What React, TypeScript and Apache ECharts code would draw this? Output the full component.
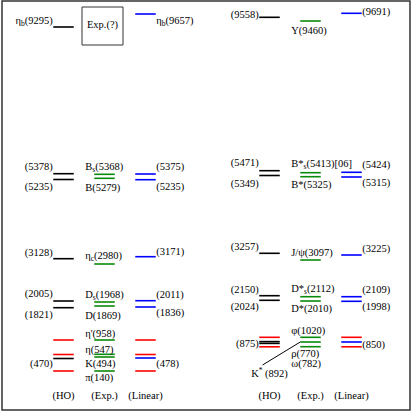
import { useEffect, useRef } from "react";
import * as echarts from "echarts";

// Columns of each panel (model / experiment / model)
const columns = ["(HO)", "(Exp.)", "(Linear)"];

// Level kinds: 0 = HO model, 1 = experiment, 2 = linear model, 3 = reference level
// Each level: [column, schematic level position (0 = top of the diagram), kind]
const pseudoscalarLevels: [number, number, number][] = [
  [0, 27, 0], [2, 14, 2],
  [0, 173.7, 0], [0, 179.5, 0], [1, 174.3, 1], [1, 178.3, 1], [2, 174, 2], [2, 179.7, 2],
  [0, 258.7, 0], [1, 264, 1], [2, 256.7, 2],
  [0, 301, 0], [0, 307.7, 0], [1, 302, 1], [1, 306, 1], [2, 300.7, 2], [2, 307, 2],
  [0, 340, 3], [0, 354.5, 3], [0, 358.5, 0], [0, 371, 3],
  [1, 340, 1], [1, 354.3, 1], [1, 357, 1], [1, 371, 1],
  [2, 340, 3], [2, 354.5, 3], [2, 358, 2], [2, 371, 3],
];

const vectorLevels: [number, number, number][] = [
  [0, 17.3, 0], [1, 21, 1], [2, 13.3, 2],
  [0, 170.7, 0], [0, 175.5, 0], [1, 172.7, 1], [1, 176.7, 1], [2, 172.3, 2], [2, 177, 2],
  [0, 253.3, 0], [1, 260, 1], [2, 255, 2],
  [0, 295.7, 0], [0, 300.3, 0], [1, 296.7, 1], [1, 301, 1], [2, 296.7, 2], [2, 301.3, 2],
  [0, 337.3, 3], [0, 341.6, 0], [0, 343.4, 0], [0, 346.8, 3],
  [1, 337.3, 1], [1, 342, 1], [1, 346.7, 1],
  [2, 337.3, 3], [2, 342, 2], [2, 346.8, 3],
];

// Labels: [column, level position, text ("_x" subscript, "^x" superscript), centred?]
const pseudoscalarLabels: [number, number, string, boolean?][] = [
  [0, 20, "η_b(9295)"], [2, 20, "η_b(9657)"],
  [0, 166.7, "(5378)"], [0, 186, "(5235)"], [1, 166, "B_s(5368)"], [1, 187, "B(5279)"],
  [2, 166, "(5375)"], [2, 186, "(5235)"],
  [0, 252.7, "(3128)"], [1, 255, "η_c(2980)"], [2, 251, "(3171)"],
  [0, 293.3, "(2005)"], [0, 314, "(1821)"], [1, 294, "D_s(1968)"], [1, 315.3, "D(1869)"],
  [2, 294, "(2011)"], [2, 312, "(1836)"],
  [1, 333.3, "η'(958)"], [1, 349.3, "η(547)"], [1, 363.3, "K(494)"], [1, 377.3, "π(140)"],
  [0, 363.3, "(470)"], [2, 363.3, "(478)"],
];

const vectorLabels: [number, number, string, boolean?][] = [
  [0, 14.7, "(9558)"], [1, 30, "Υ(9460)"], [2, 11, "(9691)"],
  [0, 162.7, "(5471)"], [0, 183.3, "(5349)"], [1, 163.3, "B*_s(5413)[06]"], [1, 184.7, "B*(5325)"],
  [2, 164, "(5424)"], [2, 182.7, "(5315)"],
  [0, 246.7, "(3257)"], [1, 252.7, "J/ψ(3097)"], [2, 248.3, "(3225)"],
  [0, 289.3, "(2150)"], [0, 306, "(2024)"], [1, 288.3, "D*_s(2112)"], [1, 308.3, "D*(2010)"],
  [2, 289.3, "(2109)"], [2, 306.7, "(1998)"],
  [1, 330.7, "φ(1020)"], [0, 343.3, "(875)"], [1, 353.3, "ρ(770)"], [1, 363.5, "ω(782)"],
  [0, 373.3, "K^* (892)", true], [2, 344, "(850)"],
];

// K* pointer: from the K* label (HO column) to the experimental level
const kStarPointer: [number, number][] = [[0, 365], [1, 342]];

const KIND_COLORS = ["#000000", "#0a8a0a", "#0000ff", "#ff0000"];
const FONT = "Liberation Serif";
const FS = 10.5;

const rich = {
  n: { fontSize: FS, fontFamily: FONT, lineHeight: 8, fill: "#000" },
  sub: { fontSize: 7.5, fontFamily: FONT, lineHeight: 8, padding: [6, 0, 0, 0], fill: "#000" },
  sup: { fontSize: 7.5, fontFamily: FONT, lineHeight: 8, padding: [0, 0, 6, 0], fill: "#000" },
};

function toRich(s: string): string {
  let out = "";
  let buf = "";
  const flush = () => {
    if (buf) {
      out += `{n|${buf}}`;
      buf = "";
    }
  };
  let i = 0;
  while (i < s.length) {
    const ch = s[i];
    if ((ch === "_" || ch === "^") && i + 1 < s.length) {
      flush();
      out += `{${ch === "_" ? "sub" : "sup"}|${s[i + 1]}}`;
      i += 2;
    } else {
      buf += ch;
      i++;
    }
  }
  flush();
  return out;
}

function levelSeries(levels: [number, number, number][], idx: number) {
  return {
    type: "custom",
    xAxisIndex: idx,
    yAxisIndex: idx,
    clip: false,
    encode: { x: 0, y: 1 },
    data: levels.map((l) => [l[0], l[1]]),
    renderItem: (params: any, api: any) => {
      const l = levels[params.dataIndex];
      const p = api.coord([l[0], l[1]]);
      const half = api.size([1, 0])[0] * 0.25;
      return {
        type: "line",
        shape: { x1: p[0] - half, y1: p[1], x2: p[0] + half, y2: p[1] },
        style: { stroke: KIND_COLORS[l[2]], lineWidth: 1.6 },
      };
    },
  };
}

function labelSeries(labels: [number, number, string, boolean?][], idx: number) {
  return {
    type: "custom",
    xAxisIndex: idx,
    yAxisIndex: idx,
    clip: false,
    encode: { x: 0, y: 1 },
    data: labels.map((l) => [l[0], l[1]]),
    renderItem: (params: any, api: any) => {
      const l = labels[params.dataIndex];
      const p = api.coord([l[0], l[1]]);
      const band = api.size([1, 0])[0];
      let x = p[0];
      let align = "left";
      if (l[3]) {
        align = "center";
      } else if (l[0] === 0) {
        x -= band * 0.26;
        align = "right";
      } else if (l[0] === 1) {
        x -= band * 0.47;
        align = "left";
      } else {
        x += band * 0.26;
        align = "left";
      }
      return {
        type: "text",
        x,
        y: p[1],
        style: {
          text: toRich(l[2]),
          rich,
          fill: "#000",
          fontSize: FS,
          fontFamily: FONT,
          align,
          verticalAlign: "middle",
          textAlign: align,
          textVerticalAlign: "middle",
        },
      };
    },
  };
}

export default function App() {
  const ref = useRef<HTMLDivElement>(null);

  useEffect(() => {
    if (!ref.current) return;
    const chart = echarts.init(ref.current, null, { renderer: "svg" });

    const xAxisBase = {
      type: "category",
      data: columns,
      axisLine: { show: false },
      axisTick: { show: false },
      splitLine: { show: false },
      axisLabel: { interval: 0, margin: 2, fontFamily: FONT, fontSize: FS, color: "#000" },
    };
    const yAxisBase = {
      type: "value",
      min: 0,
      max: 388,
      inverse: true,
      show: false,
      splitLine: { show: false },
    };

    chart.setOption({
      animation: false,
      backgroundColor: "#ffffff",
      grid: [
        { left: 43, width: 123, top: 0, height: 388 },
        { left: 249, width: 123, top: 0, height: 388 },
      ],
      xAxis: [
        { ...xAxisBase, gridIndex: 0 },
        { ...xAxisBase, gridIndex: 1 },
      ],
      yAxis: [
        { ...yAxisBase, gridIndex: 0 },
        { ...yAxisBase, gridIndex: 1 },
      ],
      graphic: [
        {
          type: "rect",
          shape: { x: 2, y: 1, width: 408, height: 409 },
          style: { fill: "none", stroke: "#333", lineWidth: 1.5 },
          silent: true,
        },
        {
          type: "rect",
          shape: { x: 82, y: 7, width: 41, height: 38 },
          style: { fill: "none", stroke: "#333", lineWidth: 1 },
          silent: true,
        },
        {
          type: "text",
          x: 102.5,
          y: 24,
          style: {
            text: "Exp.(?)",
            fontFamily: FONT,
            fontSize: FS,
            fill: "#000",
            align: "center",
            verticalAlign: "middle",
            textAlign: "center",
            textVerticalAlign: "middle",
          },
          silent: true,
        },
      ],
      series: [
        levelSeries(pseudoscalarLevels, 0),
        levelSeries(vectorLevels, 1),
        labelSeries(pseudoscalarLabels, 0),
        labelSeries(vectorLabels, 1),
        {
          type: "custom",
          xAxisIndex: 1,
          yAxisIndex: 1,
          clip: false,
          encode: { x: 0, y: 1 },
          data: [kStarPointer[0]],
          renderItem: (_params: any, api: any) => {
            const a = api.coord(kStarPointer[0]);
            const b = api.coord(kStarPointer[1]);
            const band = api.size([1, 0])[0];
            return {
              type: "line",
              shape: { x1: a[0] - band * 0.17, y1: a[1], x2: b[0] - band * 0.25, y2: b[1] },
              style: { stroke: "#000", lineWidth: 1 },
            };
          },
        },
      ],
    });

    return () => chart.dispose();
  }, []);

  return (
    <div
      ref={ref}
      style={{ position: "absolute", left: 0, top: 0, width: 415, height: 415, background: "#fff" }}
    />
  );
}
